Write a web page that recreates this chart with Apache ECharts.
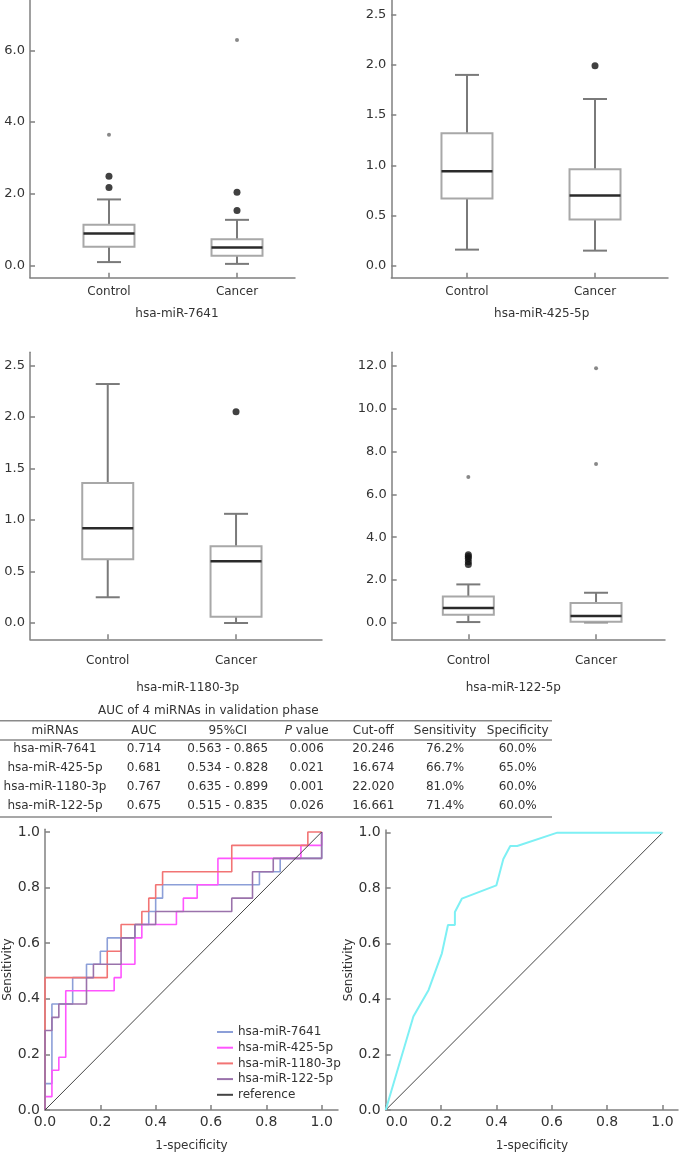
<!DOCTYPE html>
<html>
<head>
<meta charset="utf-8">
<title>miRNA expression and ROC</title>
<script src="https://cdn.jsdelivr.net/npm/echarts@6/dist/echarts.min.js"></script>
<style>
  html, body { margin: 0; padding: 0; background: #fff; }
  #chart { width: 700px; height: 1160px; }
</style>
</head>
<body>
<div id="chart"></div>
<script>
const groups = ['Control', 'Cancer']
const mirnas = ['hsa-miR-7641', 'hsa-miR-425-5p', 'hsa-miR-1180-3p', 'hsa-miR-122-5p']

// [low whisker, Q1, median, Q3, high whisker] for Control, Cancer
const box7641 = [[0.09, 0.52, 0.89, 1.13, 1.84], [0.04, 0.27, 0.50, 0.73, 1.27]]
const box425 = [[0.16, 0.67, 0.94, 1.32, 1.90], [0.15, 0.46, 0.70, 0.96, 1.66]]
const box1180 = [[0.25, 0.62, 0.92, 1.36, 2.32], [0.00, 0.06, 0.60, 0.745, 1.06]]
const box122 = [[0.03, 0.37, 0.69, 1.23, 1.79], [0.01, 0.04, 0.31, 0.92, 1.40]]

// outliers [group index, value]; "far" = extreme values
const out7641 = [[0, 2.17], [0, 2.49], [1, 1.53], [1, 2.04]]
const far7641 = [[0, 3.65], [1, 6.29]]
const out425 = [[1, 1.99]]
const far425 = []
const out1180 = [[1, 2.05]]
const far1180 = []
const out122 = [[0, 2.72], [0, 2.85], [0, 3.0], [0, 3.1], [0, 3.18]]
const far122 = [[0, 6.81], [1, 7.42], [1, 11.9]]

const ticks7641 = [0, 2, 4, 6]
const ticks425 = [0, 0.5, 1, 1.5, 2, 2.5]
const ticks1180 = [0, 0.5, 1, 1.5, 2, 2.5]
const ticks122 = [0, 2, 4, 6, 8, 10, 12]
const rocTicks = [0, 0.2, 0.4, 0.6, 0.8, 1]

// table
const tableTitle = 'AUC of 4 miRNAs in validation phase'
const tableHeader = ['miRNAs', 'AUC', '95%CI', '{i|P} value', 'Cut-off', 'Sensitivity', 'Specificity']
const aucVals = ['0.714', '0.681', '0.767', '0.675']
const ciVals = ['0.563 - 0.865', '0.534 - 0.828', '0.635 - 0.899', '0.515 - 0.835']
const pVals = ['0.006', '0.021', '0.001', '0.026']
const cutoffVals = ['20.246', '16.674', '22.020', '16.661']
const sensVals = ['76.2%', '66.7%', '81.0%', '71.4%']
const specVals = ['60.0%', '65.0%', '60.0%', '60.0%']

// ROC curves [1-specificity, sensitivity]
const roc7641 = [[0, 0], [0, 0.095], [0.025, 0.095], [0.025, 0.381], [0.1, 0.381], [0.1, 0.476], [0.15, 0.476], [0.15, 0.524], [0.2, 0.524], [0.2, 0.571], [0.225, 0.571], [0.225, 0.619], [0.325, 0.619], [0.325, 0.667], [0.375, 0.667], [0.375, 0.714], [0.4, 0.714], [0.4, 0.762], [0.425, 0.762], [0.425, 0.81], [0.775, 0.81], [0.775, 0.857], [0.85, 0.857], [0.85, 0.905], [1, 0.905], [1, 1]]
const roc425 = [[0, 0], [0, 0.048], [0.025, 0.048], [0.025, 0.143], [0.05, 0.143], [0.05, 0.19], [0.075, 0.19], [0.075, 0.429], [0.25, 0.429], [0.25, 0.476], [0.275, 0.476], [0.275, 0.524], [0.325, 0.524], [0.325, 0.619], [0.35, 0.619], [0.35, 0.667], [0.475, 0.667], [0.475, 0.714], [0.5, 0.714], [0.5, 0.762], [0.55, 0.762], [0.55, 0.81], [0.625, 0.81], [0.625, 0.905], [0.925, 0.905], [0.925, 0.952], [1, 0.952], [1, 1]]
const roc1180 = [[0, 0], [0, 0.476], [0.225, 0.476], [0.225, 0.571], [0.275, 0.571], [0.275, 0.667], [0.35, 0.667], [0.35, 0.714], [0.375, 0.714], [0.375, 0.762], [0.4, 0.762], [0.4, 0.81], [0.425, 0.81], [0.425, 0.857], [0.675, 0.857], [0.675, 0.952], [0.95, 0.952], [0.95, 1], [1, 1]]
const roc122 = [[0, 0], [0, 0.286], [0.025, 0.286], [0.025, 0.333], [0.05, 0.333], [0.05, 0.381], [0.15, 0.381], [0.15, 0.476], [0.175, 0.476], [0.175, 0.524], [0.275, 0.524], [0.275, 0.619], [0.325, 0.619], [0.325, 0.667], [0.4, 0.667], [0.4, 0.714], [0.675, 0.714], [0.675, 0.762], [0.75, 0.762], [0.75, 0.857], [0.825, 0.857], [0.825, 0.905], [1, 0.905], [1, 1]]
const rocRef = [[0, 0], [1, 1]]
const rocCombined = [[0, 0], [0.1, 0.337], [0.155, 0.433], [0.203, 0.565], [0.225, 0.667], [0.25, 0.667], [0.25, 0.714], [0.275, 0.762], [0.4, 0.81], [0.425, 0.905], [0.45, 0.952], [0.475, 0.952], [0.62, 1], [1, 1]]

const FONT = 'DejaVu Sans'
const AXIS_COLOR = '#808080'
const TEXT_COLOR = '#333'

const boxPanels = [
  { box: box7641, out: out7641, far: far7641, ticks: ticks7641, grid: { left: 30, top: 0, width: 265, height: 277.7 }, x: [-0.617, 1.453], y: [-0.346, 7.41], labelMargin: 8 },
  { box: box425, out: out425, far: far425, ticks: ticks425, grid: { left: 391.3, top: 0, width: 276.7, height: 277.7 }, x: [-0.591, 1.57], y: [-0.1195, 2.646], labelMargin: 8 },
  { box: box1180, out: out1180, far: far1180, ticks: ticks1180, grid: { left: 30, top: 352.3, width: 292, height: 287 }, x: [-0.606, 1.67], y: [-0.158, 2.628], labelMargin: 16 },
  { box: box122, out: out122, far: far122, ticks: ticks122, grid: { left: 391.7, top: 352.3, width: 273.3, height: 287 }, x: [-0.6, 1.54], y: [-0.776, 12.64], labelMargin: 16 },
]
const titlePos = [[177, 314], [541.7, 314], [187.7, 688], [513.3, 688]]

function renderBox(params, api) {
  const i = api.value(0)
  const lo = api.coord([i, api.value(1)])
  const q1 = api.coord([i, api.value(2)])
  const md = api.coord([i, api.value(3)])
  const q3 = api.coord([i, api.value(4)])
  const hi = api.coord([i, api.value(5)])
  const cx = lo[0]
  const halfBox = 25.5
  const halfCap = 12
  const whisker = () => ({ stroke: '#7a7a7a', lineWidth: 2 })
  return {
    type: 'group',
    children: [
      { type: 'line', shape: { x1: cx, y1: lo[1], x2: cx, y2: q1[1] }, style: whisker() },
      { type: 'line', shape: { x1: cx, y1: q3[1], x2: cx, y2: hi[1] }, style: whisker() },
      { type: 'line', shape: { x1: cx - halfCap, y1: lo[1], x2: cx + halfCap, y2: lo[1] }, style: whisker() },
      { type: 'line', shape: { x1: cx - halfCap, y1: hi[1], x2: cx + halfCap, y2: hi[1] }, style: whisker() },
      { type: 'rect', shape: { x: cx - halfBox, y: q3[1], width: halfBox * 2, height: q1[1] - q3[1] }, style: { fill: '#fff', stroke: '#a8a8a8', lineWidth: 2 } },
      { type: 'line', shape: { x1: cx - halfBox, y1: md[1], x2: cx + halfBox, y2: md[1] }, style: { stroke: '#2a2a2a', lineWidth: 2.5 } },
    ],
  }
}

const grids = []
const xAxes = []
const yAxes = []
const series = []

boxPanels.forEach((p, i) => {
  grids.push(p.grid)
  xAxes.push({
    type: 'value', gridIndex: i, min: p.x[0], max: p.x[1],
    splitLine: { show: false },
    axisLine: { onZero: false, lineStyle: { color: AXIS_COLOR, width: 1.5 } },
    axisTick: { customValues: [0, 1], inside: true, length: 5, lineStyle: { color: AXIS_COLOR, width: 1.5 } },
    axisLabel: { customValues: [0, 1], formatter: (v) => groups[Math.round(v)], color: TEXT_COLOR, fontSize: 12, fontFamily: FONT, margin: p.labelMargin },
  })
  yAxes.push({
    type: 'value', gridIndex: i, min: p.y[0], max: p.y[1],
    splitLine: { show: false },
    axisLine: { show: true, onZero: false, lineStyle: { color: AXIS_COLOR, width: 1.5 } },
    axisTick: { show: true, customValues: p.ticks, inside: true, length: 5, lineStyle: { color: AXIS_COLOR, width: 1.5 } },
    axisLabel: { customValues: p.ticks, formatter: (v) => v.toFixed(1), color: TEXT_COLOR, fontSize: 13, fontFamily: FONT, margin: 5 },
  })
  series.push({
    type: 'custom', xAxisIndex: i, yAxisIndex: i,
    renderItem: renderBox,
    data: p.box.map((b, g) => [g].concat(b)),
    z: 2,
  })
  series.push({
    type: 'scatter', xAxisIndex: i, yAxisIndex: i,
    data: p.out, symbolSize: 7, itemStyle: { color: '#111' }, z: 3,
  })
  series.push({
    type: 'scatter', xAxisIndex: i, yAxisIndex: i,
    data: p.far, symbolSize: 4, itemStyle: { color: '#6a6a6a' }, z: 3,
  })
})

// ROC grids
const rocGrids = [
  { left: 45, top: 829.2, width: 293, height: 280.8 },
  { left: 385.7, top: 829.9, width: 292.3, height: 280.1 },
]
const rocX = [1.059, 1.056]
const rocY = [1.01, 1.01]
rocGrids.forEach((g, k) => {
  const idx = 4 + k
  grids.push(g)
  xAxes.push({
    type: 'value', gridIndex: idx, min: 0, max: rocX[k],
    name: '1-specificity', nameLocation: 'middle', nameGap: 30,
    nameTextStyle: { color: TEXT_COLOR, fontSize: 12, fontFamily: FONT },
    splitLine: { show: false },
    axisLine: { onZero: false, lineStyle: { color: AXIS_COLOR, width: 1.5 } },
    axisTick: { customValues: rocTicks, inside: true, length: 5, lineStyle: { color: AXIS_COLOR, width: 1.5 } },
    axisLabel: { customValues: rocTicks, formatter: (v) => v.toFixed(1), color: TEXT_COLOR, fontSize: 14, fontFamily: FONT, margin: 5, alignMinLabel: k === 1 ? 'left' : 'center' },
  })
  yAxes.push({
    type: 'value', gridIndex: idx, min: 0, max: rocY[k],
    name: 'Sensitivity', nameLocation: 'middle', nameGap: 30,
    nameTextStyle: { color: TEXT_COLOR, fontSize: 12, fontFamily: FONT },
    splitLine: { show: false },
    axisLine: { show: true, onZero: false, lineStyle: { color: AXIS_COLOR, width: 1.5 } },
    axisTick: { show: true, customValues: rocTicks, inside: true, length: 5, lineStyle: { color: AXIS_COLOR, width: 1.5 } },
    axisLabel: { customValues: rocTicks, formatter: (v) => v.toFixed(1), color: TEXT_COLOR, fontSize: 14, fontFamily: FONT, margin: 5 },
  })
})

const rocLines = [
  { name: mirnas[0], data: roc7641, color: '#8c9fd8' },
  { name: mirnas[1], data: roc425, color: '#ff55ff' },
  { name: mirnas[2], data: roc1180, color: '#f27474' },
  { name: mirnas[3], data: roc122, color: '#9a72ab' },
  { name: 'reference', data: rocRef, color: '#444' },
]
rocLines.forEach((r) => {
  series.push({
    type: 'line', name: r.name, xAxisIndex: 4, yAxisIndex: 4,
    data: r.data, showSymbol: false, color: r.color,
    lineStyle: { color: r.color, width: r.name === 'reference' ? 1 : 1.6 },
  })
})
series.push({
  type: 'line', name: 'reference line', xAxisIndex: 5, yAxisIndex: 5,
  data: rocRef, showSymbol: false, color: '#444', lineStyle: { color: '#444', width: 1 },
})
series.push({
  type: 'line', name: 'combined', xAxisIndex: 5, yAxisIndex: 5,
  data: rocCombined, showSymbol: false, color: '#7ef0f4', lineStyle: { color: '#7ef0f4', width: 2 },
})

// graphic: titles and table
const graphics = []
const textEl = (x, y, text, extra) => ({
  type: 'text', x, y,
  style: Object.assign({
    text, fontSize: 12, fontFamily: FONT, fill: TEXT_COLOR,
    align: 'center', verticalAlign: 'middle', textAlign: 'center', textVerticalAlign: 'middle',
  }, extra || {}),
})
mirnas.forEach((m, i) => graphics.push(textEl(titlePos[i][0], titlePos[i][1], m)))

const colX = [55, 144, 227.7, 306.7, 373.3, 445, 517.7]
const headY = 730.5
const rowY = [749, 768, 787, 806]
graphics.push(textEl(208.3, 710.7, tableTitle))
const tableLine = (y) => ({ type: 'line', shape: { x1: 0, y1: y, x2: 552, y2: y }, style: { stroke: '#8a8a8a', lineWidth: 1.5 } })
graphics.push(tableLine(720.7), tableLine(740), tableLine(817))
tableHeader.forEach((h, c) => graphics.push(textEl(colX[c], headY, h, { rich: { i: { fontStyle: 'italic', fontSize: 12, fontFamily: FONT, fill: TEXT_COLOR } } })))
mirnas.forEach((m, r) => {
  const cells = [m, aucVals[r], ciVals[r], pVals[r], cutoffVals[r], sensVals[r], specVals[r]]
  cells.forEach((t, c) => graphics.push(textEl(colX[c], rowY[r], t)))
})

const chart = echarts.init(document.getElementById('chart'))
chart.setOption({
  animation: false,
  backgroundColor: '#fff',
  textStyle: { fontFamily: FONT },
  grid: grids,
  xAxis: xAxes,
  yAxis: yAxes,
  legend: {
    data: rocLines.map((r) => r.name),
    orient: 'vertical', left: 212, top: 1021,
    icon: 'rect', itemWidth: 16, itemHeight: 2, itemGap: 3.7,
    textStyle: { fontSize: 12, color: TEXT_COLOR, fontFamily: FONT },
  },
  graphic: graphics,
  series,
})
</script>
</body>
</html>
